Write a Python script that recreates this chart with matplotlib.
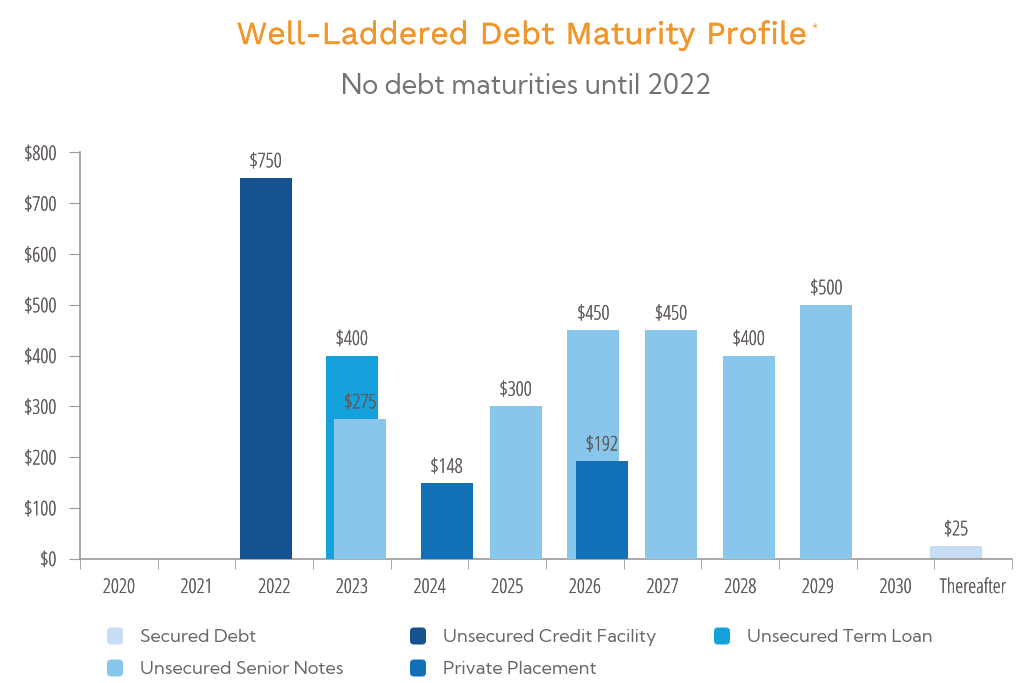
import numpy as np
import matplotlib
matplotlib.use("Agg")
import matplotlib.pyplot as plt
import matplotlib.patheffects as pe
from matplotlib.patches import FancyBboxPatch

years = ['2020', '2021', '2022', '2023', '2024', '2025', '2026', '2027',
         '2028', '2029', '2030', 'Thereafter']
secured_debt = [0, 0, 0, 0, 0, 0, 0, 0, 0, 0, 0, 25]
credit_facility = [0, 0, 750, 0, 0, 0, 0, 0, 0, 0, 0, 0]
term_loan = [0, 0, 0, 400, 0, 0, 0, 0, 0, 0, 0, 0]
senior_notes = [0, 0, 0, 275, 0, 300, 450, 450, 400, 500, 0, 0]
private_placement = [0, 0, 0, 0, 148, 0, 192, 0, 0, 0, 0, 0]

series = [
    ('Secured Debt', secured_debt, '#c6ddf3'),
    ('Unsecured Credit Facility', credit_facility, '#16528f'),
    ('Unsecured Term Loan', term_loan, '#15a1dc'),
    ('Unsecured Senior Notes', senior_notes, '#89c6eb'),
    ('Private Placement', private_placement, '#1170b8'),
]

cond = dict(family=['Open Sans', 'DejaVu Sans'], stretch='condensed', weight=300)
title_font = ['Work Sans', 'Open Sans', 'DejaVu Sans']
body_font = ['Kumbh Sans', 'Open Sans', 'DejaVu Sans']
txt_gray = '#5f5957'
axis_gray = '#9a9a9a'
thick = [pe.withStroke(linewidth=0.12, foreground=txt_gray)]

fig = plt.figure(figsize=(10.22, 6.83), dpi=100)
ax = fig.add_axes([80/1022, 1-558.5/683, 932/1022, 406/683])

x = np.arange(len(years))
width = 0.67
step = 0.11
for i, (name, vals, col) in enumerate(series):
    idx = [k for k, v in enumerate(vals) if v > 0]
    pos = x[idx] + (i - 2) * step
    h = [vals[k] for k in idx]
    bars = ax.bar(pos, h, width=width, color=col, zorder=2 + i)
    lbls = ax.bar_label(bars, labels=['$%d' % v for v in h], padding=4,
                        fontsize=14.5, color=txt_gray, zorder=10, **cond)
    for l in lbls:
        l.set_path_effects(thick)

ax.set_xlim(-0.5, len(years) - 0.5)
ax.set_ylim(0, 800)
ax.set_yticks(range(0, 801, 100))
ax.set_yticklabels(['$%d' % v for v in range(0, 801, 100)])
ax.set_xticks(x)
ax.set_xticklabels(years)
ax.set_xticks(np.arange(-0.5, len(years)), minor=True)
ax.tick_params(axis='x', which='major', length=0, pad=14)
ax.tick_params(axis='x', which='minor', length=7, color=axis_gray, direction='out')
ax.tick_params(axis='y', length=8, color=axis_gray, pad=9)
for lab in ax.get_xticklabels() + ax.get_yticklabels():
    lab.set_family(cond['family'])
    lab.set_stretch('condensed')
    lab.set_weight(300)
    lab.set_fontsize(14.5)
    lab.set_color(txt_gray)
    lab.set_path_effects(thick)

for s in ['top', 'right']:
    ax.spines[s].set_visible(False)
for s in ['left', 'bottom']:
    ax.spines[s].set_color(axis_gray)
    ax.spines[s].set_linewidth(1.2)

orange = '#f0962b'
fig.text(522/1022, 1-36/683, 'Well-Laddered Debt Maturity Profile', ha='center', va='center',
         fontsize=23, color=orange, family=title_font,
         path_effects=[pe.withStroke(linewidth=0.3, foreground=orange)])
fig.text(811/1022, 1-28/683, '*', ha='left', va='center', fontsize=8, color=orange,
         family=title_font)
fig.text(526/1022, 1-87/683, 'No debt maturities until 2022', ha='center', va='center',
         fontsize=19.5, color='#727272', family=body_font)

# legend
leg_pos = [(107, 636), (410, 636), (714, 636), (107, 668), (410, 668)]
for (px, py), (name, vals, col) in zip(leg_pos, series):
    w, hh = 16, 17
    box = FancyBboxPatch((px / 100, (683 - py - hh / 2) / 100), w / 100, hh / 100,
                         boxstyle='round,pad=0,rounding_size=0.04',
                         transform=fig.dpi_scale_trans, facecolor=col, edgecolor='none')
    fig.add_artist(box)
    fig.text((px + 33) / 1022, 1 - (py + 1.5) / 683, name, ha='left', va='center',
             fontsize=13, color='#666666', family=body_font)

fig.savefig('out.png', dpi=100)
